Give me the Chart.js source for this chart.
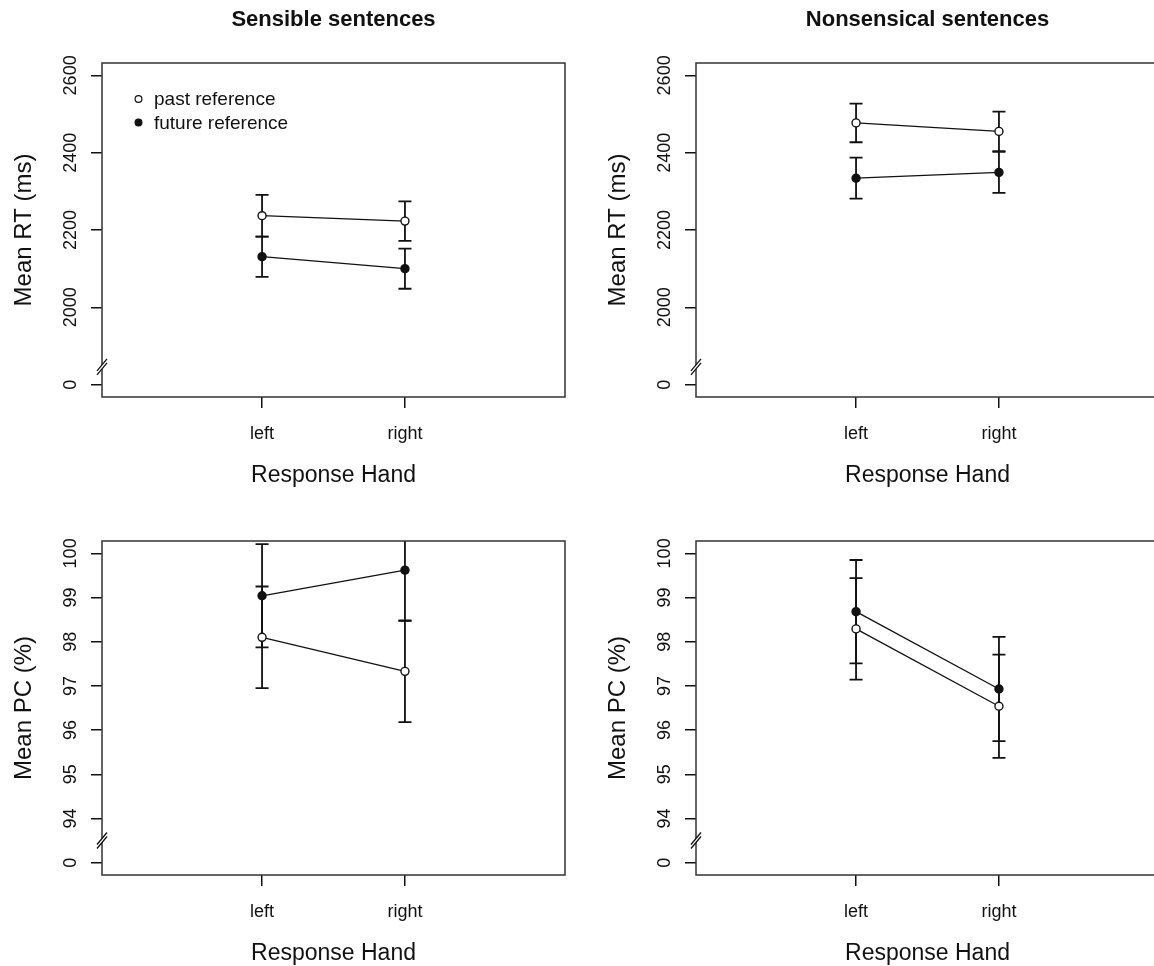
<!DOCTYPE html>
<html>
<head>
<meta charset="utf-8">
<script src="https://cdn.jsdelivr.net/npm/chart.js@4"></script>
<style>
html, body { margin: 0; padding: 0; background: #fff; overflow: hidden; width: 1154px; height: 966px; }
canvas { position: absolute; }
</style>
</head>
<body>
<canvas id="rt-sens" width="577" height="492" style="left:0;top:0"></canvas>
<canvas id="rt-nons" width="577" height="492" style="left:594px;top:0"></canvas>
<canvas id="pc-sens" width="577" height="492" style="left:0;top:478px"></canvas>
<canvas id="pc-nons" width="577" height="492" style="left:594px;top:478px"></canvas>
<script>
// categories / series
const hands = ['left', 'right'];
const seriesNames = ['past reference', 'future reference'];

// y axis ticks (lowest tick is shown as "0" below the axis break)
const rtTicks = [1800, 2000, 2200, 2400, 2600];
const rtTickLabels = ['0', '2000', '2200', '2400', '2600'];
const pcTicks = [93, 94, 95, 96, 97, 98, 99, 100];
const pcTickLabels = ['0', '94', '95', '96', '97', '98', '99', '100'];

// mean RT (ms) and error
const rtSensPast = [2237, 2223];
const rtSensPastErr = [54, 51];
const rtSensFuture = [2131, 2100];
const rtSensFutureErr = [52, 52];
const rtNonsPast = [2477, 2455];
const rtNonsPastErr = [50, 51];
const rtNonsFuture = [2334, 2349];
const rtNonsFutureErr = [53, 53];

// mean PC (%) and error
const pcSensPast = [98.10, 97.33];
const pcSensPastErr = [1.15, 1.15];
const pcSensFuture = [99.04, 99.62];
const pcSensFutureErr = [1.17, 1.15];
const pcNonsPast = [98.29, 96.54];
const pcNonsPastErr = [1.15, 1.17];
const pcNonsFuture = [98.68, 96.93];
const pcNonsFutureErr = [1.17, 1.18];

const FONT = "'Liberation Sans', Arial, Helvetica, sans-serif";
const INK = '#111';

// error bars, box, axis break, legend
const panelExtras = {
    id: 'panelExtras',
    beforeDatasetsDraw(chart) {
        const {ctx, chartArea: a, scales: {x, y}} = chart;
        ctx.save();
        ctx.beginPath();
        ctx.rect(a.left, a.top, a.right - a.left, a.bottom - a.top);
        ctx.clip();
        ctx.strokeStyle = INK;
        ctx.lineWidth = 1.8;
        chart.data.datasets.forEach(ds => {
            ds.data.forEach((p, i) => {
                const px = x.getPixelForValue(p.x);
                const hi = y.getPixelForValue(p.y + ds.errorBars[i]);
                const lo = y.getPixelForValue(p.y - ds.errorBars[i]);
                ctx.beginPath();
                ctx.moveTo(px, hi); ctx.lineTo(px, lo);
                ctx.moveTo(px - 6.5, hi); ctx.lineTo(px + 6.5, hi);
                ctx.moveTo(px - 6.5, lo); ctx.lineTo(px + 6.5, lo);
                ctx.stroke();
            });
        });
        ctx.restore();
    },
    afterDraw(chart, args, opts) {
        const {ctx, chartArea: a, scales: {y}} = chart;
        ctx.save();
        // box
        ctx.strokeStyle = '#333';
        ctx.lineWidth = 1.5;
        ctx.strokeRect(a.left, a.top, a.right - a.left, a.bottom - a.top);

        // axis break: two slashes with the axis cut between them
        const bx = a.left;
        const by = y.getPixelForValue(opts.breakAt);
        ctx.fillStyle = '#fff';
        ctx.beginPath();
        ctx.moveTo(bx - 5, by + 4);
        ctx.lineTo(bx + 5, by - 8);
        ctx.lineTo(bx + 5, by - 4);
        ctx.lineTo(bx - 5, by + 8);
        ctx.closePath();
        ctx.fill();
        ctx.strokeStyle = INK;
        ctx.lineWidth = 1.3;
        ctx.beginPath();
        ctx.moveTo(bx - 5, by + 4); ctx.lineTo(bx + 5, by - 8);
        ctx.moveTo(bx - 5, by + 8); ctx.lineTo(bx + 5, by - 4);
        ctx.stroke();

        // legend inside plot
        if (opts.legend) {
            ctx.font = '19px ' + FONT;
            ctx.textBaseline = 'middle';
            ctx.textAlign = 'left';
            chart.data.datasets.forEach((ds, i) => {
                const ly = a.top + 36 + i * 23.5;
                ctx.beginPath();
                ctx.arc(a.left + 36.5, ly, 3.4, 0, Math.PI * 2);
                ctx.fillStyle = ds.pointBackgroundColor;
                ctx.fill();
                ctx.lineWidth = 1.2;
                ctx.strokeStyle = INK;
                ctx.stroke();
                ctx.fillStyle = INK;
                ctx.fillText(ds.label, a.left + 52, ly + 1);
            });
        }
        ctx.restore();
    }
};

function toPoints(vals) {
    return vals.map((v, i) => ({x: i + 1, y: v}));
}

function makePanel(id, cfg) {
    const datasets = [
        {label: seriesNames[0], values: cfg.past, err: cfg.pastErr, fill: '#fff'},
        {label: seriesNames[1], values: cfg.future, err: cfg.futureErr, fill: INK}
    ].map(s => ({
        label: s.label,
        data: toPoints(s.values),
        errorBars: s.err,
        borderColor: INK,
        borderWidth: 1.3,
        pointRadius: 4,
        pointBorderWidth: 1.4,
        pointBorderColor: INK,
        pointBackgroundColor: s.fill,
        tension: 0,
        fill: false
    }));

    new Chart(document.getElementById(id), {
        type: 'line',
        data: {datasets: datasets},
        plugins: [panelExtras],
        options: {
            responsive: false,
            devicePixelRatio: 1,
            animation: false,
            events: [],
            layout: {padding: {top: cfg.title ? 0 : 63, right: 12, left: 0, bottom: 0}},
            scales: {
                x: {
                    type: 'linear',
                    min: -0.12,
                    max: 3.12,
                    afterBuildTicks: s => { s.ticks = hands.map((h, i) => ({value: i + 1})); },
                    afterFit: s => { s.height = 95; },
                    border: {display: false},
                    grid: {drawOnChartArea: false, drawTicks: true, tickLength: 11, color: INK, lineWidth: 1.5},
                    ticks: {
                        padding: 15,
                        color: INK,
                        font: {family: FONT, size: 18},
                        callback: v => hands[v - 1]
                    },
                    title: {
                        display: true,
                        text: 'Response Hand',
                        color: INK,
                        font: {family: FONT, size: 23},
                        padding: {top: 0, bottom: 3}
                    }
                },
                y: {
                    type: 'linear',
                    min: cfg.yMin,
                    max: cfg.yMax,
                    bounds: 'data',
                    afterBuildTicks: s => { s.ticks = cfg.ticks.map(v => ({value: v})); },
                    afterFit: s => { s.width = 102; },
                    border: {display: false},
                    grid: {drawOnChartArea: false, drawTicks: true, tickLength: 11, color: INK, lineWidth: 1.5},
                    ticks: {
                        minRotation: 90,
                        maxRotation: 90,
                        crossAlign: 'center',
                        padding: cfg.tickPad,
                        color: INK,
                        font: {family: FONT, size: 18},
                        callback: v => cfg.tickLabels[cfg.ticks.indexOf(v)]
                    },
                    title: {
                        display: true,
                        text: cfg.yTitle,
                        color: INK,
                        font: {family: FONT, size: 24},
                        padding: {top: 10, bottom: 0}
                    }
                }
            },
            plugins: {
                legend: {display: false},
                tooltip: {enabled: false},
                title: {
                    display: !!cfg.title,
                    text: cfg.title || '',
                    fullSize: false,
                    color: INK,
                    font: {family: FONT, size: 22, weight: 'bold'},
                    padding: {top: 7, bottom: 29.6}
                },
                panelExtras: {breakAt: cfg.breakAt, legend: !!cfg.legend}
            }
        }
    });
}

makePanel('rt-sens', {
    title: 'Sensible sentences', yTitle: 'Mean RT (ms)', legend: true,
    past: rtSensPast, pastErr: rtSensPastErr, future: rtSensFuture, futureErr: rtSensFutureErr,
    yMin: 1768, yMax: 2632, ticks: rtTicks, tickLabels: rtTickLabels, tickPad: 0, breakAt: 1846
});
makePanel('rt-nons', {
    title: 'Nonsensical sentences', yTitle: 'Mean RT (ms)',
    past: rtNonsPast, pastErr: rtNonsPastErr, future: rtNonsFuture, futureErr: rtNonsFutureErr,
    yMin: 1768, yMax: 2632, ticks: rtTicks, tickLabels: rtTickLabels, tickPad: 0, breakAt: 1846
});
makePanel('pc-sens', {
    yTitle: 'Mean PC (%)',
    past: pcSensPast, pastErr: pcSensPastErr, future: pcSensFuture, futureErr: pcSensFutureErr,
    yMin: 92.72, yMax: 100.28, ticks: pcTicks, tickLabels: pcTickLabels, tickPad: 5, breakAt: 93.5
});
makePanel('pc-nons', {
    yTitle: 'Mean PC (%)',
    past: pcNonsPast, pastErr: pcNonsPastErr, future: pcNonsFuture, futureErr: pcNonsFutureErr,
    yMin: 92.72, yMax: 100.28, ticks: pcTicks, tickLabels: pcTickLabels, tickPad: 5, breakAt: 93.5
});
</script>
</body>
</html>
